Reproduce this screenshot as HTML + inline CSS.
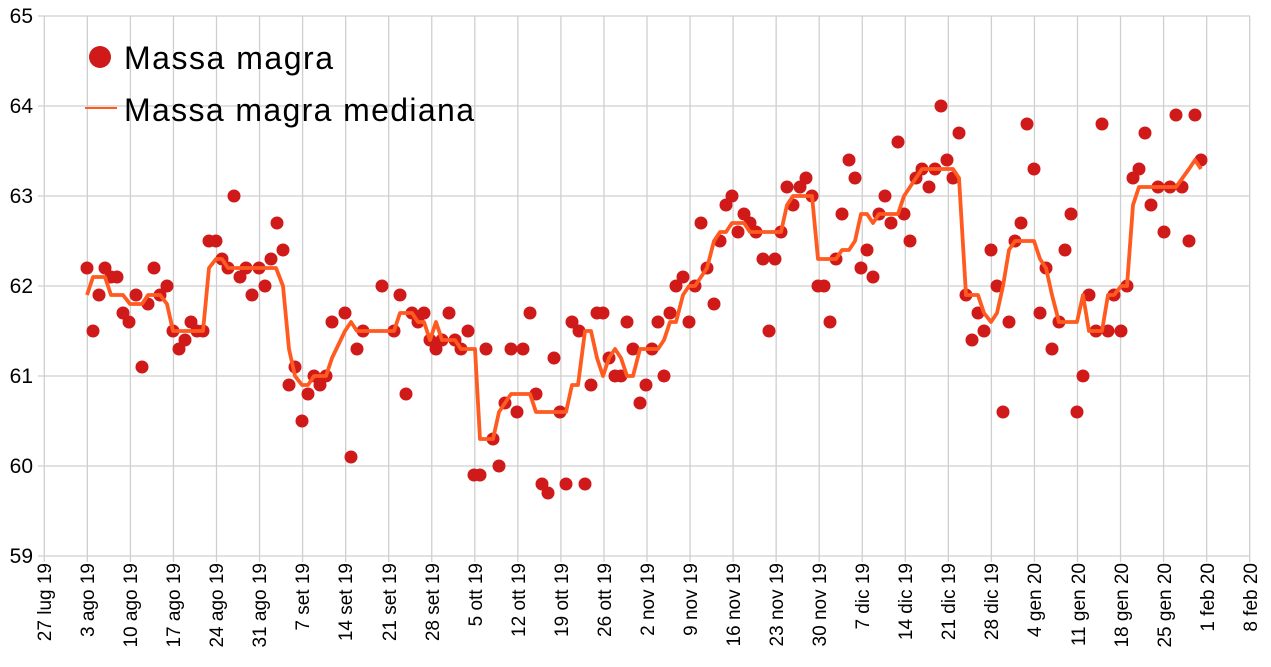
<!DOCTYPE html>
<html><head><meta charset="utf-8"><style>
html,body{margin:0;padding:0;background:#fff;}
svg{display:block;font-family:"Liberation Sans",Arial,sans-serif;}
</style></head><body>
<svg id="s" width="1271" height="667" viewBox="0 0 1271 667" xmlns="http://www.w3.org/2000/svg">
<g id="grid" stroke="#cfcfcf" stroke-width="1.3"></g>
<g font-size="21" fill="#000" text-anchor="end">
<text x="33" y="23">65</text>
<text x="33" y="113">64</text>
<text x="33" y="203">63</text>
<text x="33" y="293">62</text>
<text x="33" y="383">61</text>
<text x="33" y="473">60</text>
<text x="33" y="563">59</text>
</g>
<g id="xl" font-size="19" fill="#000" text-anchor="end">
<text transform="translate(51,563) rotate(-90)">27 lug 19</text>
<text transform="translate(94,563) rotate(-90)">3 ago 19</text>
<text transform="translate(137,563) rotate(-90)">10 ago 19</text>
<text transform="translate(180,563) rotate(-90)">17 ago 19</text>
<text transform="translate(223,563) rotate(-90)">24 ago 19</text>
<text transform="translate(266,563) rotate(-90)">31 ago 19</text>
<text transform="translate(309,563) rotate(-90)">7 set 19</text>
<text transform="translate(352,563) rotate(-90)">14 set 19</text>
<text transform="translate(396,563) rotate(-90)">21 set 19</text>
<text transform="translate(439,563) rotate(-90)">28 set 19</text>
<text transform="translate(482,563) rotate(-90)">5 ott 19</text>
<text transform="translate(525,563) rotate(-90)">12 ott 19</text>
<text transform="translate(568,563) rotate(-90)">19 ott 19</text>
<text transform="translate(611,563) rotate(-90)">26 ott 19</text>
<text transform="translate(654,563) rotate(-90)">2 nov 19</text>
<text transform="translate(697,563) rotate(-90)">9 nov 19</text>
<text transform="translate(740,563) rotate(-90)">16 nov 19</text>
<text transform="translate(783,563) rotate(-90)">23 nov 19</text>
<text transform="translate(826,563) rotate(-90)">30 nov 19</text>
<text transform="translate(869,563) rotate(-90)">7 dic 19</text>
<text transform="translate(912,563) rotate(-90)">14 dic 19</text>
<text transform="translate(955,563) rotate(-90)">21 dic 19</text>
<text transform="translate(998,563) rotate(-90)">28 dic 19</text>
<text transform="translate(1041,563) rotate(-90)">4 gen 20</text>
<text transform="translate(1085,563) rotate(-90)">11 gen 20</text>
<text transform="translate(1128,563) rotate(-90)">18 gen 20</text>
<text transform="translate(1171,563) rotate(-90)">25 gen 20</text>
<text transform="translate(1214,563) rotate(-90)">1 feb 20</text>
<text transform="translate(1257,563) rotate(-90)">8 feb 20</text>
</g>
<g id="dots" fill="#d01a1a"></g>
<polyline id="med" fill="none" stroke="#ff5a1f" stroke-width="3.8" stroke-linejoin="round"></polyline>
<circle cx="100" cy="57" r="11" fill="#d01a1a"/>
<text x="124" y="69" font-size="32" fill="#000" textLength="209">Massa magra</text>
<line x1="85" y1="108" x2="117" y2="108" stroke="#ff5a1f" stroke-width="2"/>
<text x="124" y="121" font-size="32" fill="#000" textLength="350">Massa magra mediana</text>
</svg>
<script>
var NS="http://www.w3.org/2000/svg";
function Y(v){return 16+(65-v)*90;}
var g=document.getElementById("grid");
for(var k=0;k<=28;k++){var x=44.3+k*43.05;var l=document.createElementNS(NS,"line");l.setAttribute("x1",x);l.setAttribute("x2",x);l.setAttribute("y1",16);l.setAttribute("y2",562);g.appendChild(l);}
for(var v=59;v<=65;v++){var l=document.createElementNS(NS,"line");l.setAttribute("x1",38);l.setAttribute("x2",1250);l.setAttribute("y1",Y(v));l.setAttribute("y2",Y(v));g.appendChild(l);}
var d=[87,62.2,93,61.5,99,61.9,105,62.2,111,62.1,117,62.1,123,61.7,129,61.6,136,61.9,142,61.1,148,61.8,154,62.2,160,61.9,167,62.0,173,61.5,179,61.3,185,61.4,191,61.6,197,61.5,203,61.5,209,62.5,216,62.5,222,62.3,228,62.2,234,63.0,240,62.1,246,62.2,252,61.9,259,62.2,265,62.0,271,62.3,277,62.7,283,62.4,289,60.9,295,61.1,302,60.5,308,60.8,314,61.0,320,60.9,326,61.0,332,61.6,345,61.7,351,60.1,357,61.3,363,61.5,382,62.0,394,61.5,400,61.9,406,60.8,412,61.7,418,61.6,424,61.7,430,61.4,436,61.3,442,61.4,449,61.7,455,61.4,461,61.3,468,61.5,474,59.9,480,59.9,486,61.3,493,60.3,499,60.0,505,60.7,511,61.3,517,60.6,523,61.3,530,61.7,536,60.8,542,59.8,548,59.7,554,61.2,560,60.6,566,59.8,572,61.6,579,61.5,585,59.8,591,60.9,597,61.7,603,61.7,609,61.2,615,61.0,621,61.0,627,61.6,633,61.3,640,60.7,646,60.9,652,61.3,658,61.6,664,61.0,670,61.7,676,62.0,683,62.1,689,61.6,695,62.0,701,62.7,707,62.2,714,61.8,720,62.5,726,62.9,732,63.0,738,62.6,744,62.8,750,62.7,756,62.6,763,62.3,769,61.5,775,62.3,781,62.6,787,63.1,793,62.9,800,63.1,806,63.2,812,63.0,818,62.0,824,62.0,830,61.6,836,62.3,842,62.8,849,63.4,855,63.2,861,62.2,867,62.4,873,62.1,879,62.8,885,63.0,891,62.7,898,63.6,904,62.8,910,62.5,916,63.2,922,63.3,929,63.1,935,63.3,941,64.0,947,63.4,953,63.2,959,63.7,966,61.9,972,61.4,978,61.7,984,61.5,991,62.4,997,62.0,1003,60.6,1009,61.6,1015,62.5,1021,62.7,1027,63.8,1034,63.3,1040,61.7,1046,62.2,1052,61.3,1059,61.6,1065,62.4,1071,62.8,1077,60.6,1083,61.0,1089,61.9,1096,61.5,1102,63.8,1108,61.5,1114,61.9,1121,61.5,1127,62.0,1133,63.2,1139,63.3,1145,63.7,1151,62.9,1158,63.1,1164,62.6,1170,63.1,1176,63.9,1182,63.1,1189,62.5,1195,63.9,1201,63.4];
var gd=document.getElementById("dots");
for(var i=0;i<d.length;i+=2){var c=document.createElementNS(NS,"circle");c.setAttribute("cx",d[i]);c.setAttribute("cy",Y(d[i+1]));c.setAttribute("r",6.5);gd.appendChild(c);}
var m=[87,61.9,93,62.1,105,62.1,111,61.9,123,61.9,130,61.8,142,61.8,148,61.9,160,61.9,167,61.8,173,61.5,191,61.5,203,61.5,209,62.2,216,62.3,222,62.3,228,62.2,246,62.2,276,62.2,283,62.0,289,61.3,295,61.0,302,60.9,308,60.9,314,61.0,326,61.0,332,61.2,345,61.5,351,61.6,357,61.5,394,61.5,400,61.7,412,61.7,418,61.6,424,61.6,430,61.4,436,61.6,442,61.4,449,61.4,455,61.4,461,61.3,475,61.3,480,60.3,493,60.3,499,60.6,505,60.7,511,60.8,530,60.8,536,60.6,554,60.6,566,60.6,572,60.9,578,60.9,585,61.5,591,61.5,597,61.2,603,61.0,609,61.2,615,61.3,621,61.2,627,61.0,633,61.0,640,61.3,646,61.3,652,61.3,658,61.3,664,61.4,670,61.6,676,61.6,683,61.9,689,62.0,695,62.0,701,62.1,707,62.2,714,62.5,720,62.6,726,62.6,732,62.7,744,62.7,750,62.6,763,62.6,781,62.6,787,62.9,793,63.0,812,63.0,818,62.3,836,62.3,842,62.4,849,62.4,855,62.5,861,62.8,867,62.8,873,62.7,879,62.8,898,62.8,904,63.0,910,63.1,916,63.2,922,63.3,953,63.3,959,63.2,966,61.9,978,61.9,984,61.7,991,61.6,997,61.7,1003,62.0,1009,62.4,1015,62.5,1034,62.5,1040,62.3,1046,62.2,1052,61.9,1059,61.6,1077,61.6,1083,61.9,1089,61.5,1102,61.5,1108,61.9,1114,61.9,1121,62.0,1127,62.0,1133,62.9,1139,63.1,1176,63.1,1189,63.3,1195,63.4,1201,63.3];
var p=[];for(var i=0;i<m.length;i+=2)p.push(m[i]+","+Y(m[i+1]).toFixed(1));
document.getElementById("med").setAttribute("points",p.join(" "));
</script>
</body></html>
